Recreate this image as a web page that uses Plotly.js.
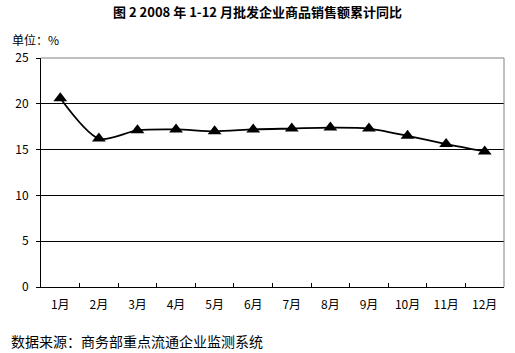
<!DOCTYPE html>
<html><head><meta charset="utf-8">
<script src="https://cdn.plot.ly/plotly-3.0.1.min.js"></script>
<style>html,body{margin:0;padding:0;background:#fff}</style>
</head><body><div id="c" style="width:515px;height:353px"></div>
<script>
const months = ["1月","2月","3月","4月","5月","6月","7月","8月","9月","10月","11月","12月"];
const growth = [20.6, 16.2, 17.1, 17.2, 17.0, 17.2, 17.3, 17.4, 17.3, 16.5, 15.6, 14.8];
const yTicks = [0, 5, 10, 15, 20, 25];
const font = "SimSun, 'Noto Sans CJK SC', sans-serif";
Plotly.newPlot('c', [{
  x: months, y: growth, type: 'scatter', mode: 'lines+markers',
  line: {color: '#000', width: 1.8, shape: 'spline', smoothing: 0.8},
  marker: {symbol: 'triangle-up', size: 12, color: '#000'},
  cliponaxis: false, showlegend: false
}], {
  width: 515, height: 353,
  margin: {l: 41, r: 11, t: 58, b: 66},
  paper_bgcolor: '#fff', plot_bgcolor: '#fff',
  title: {text: '<b>图 2 2008 年 1-12 月批发企业商品销售额累计同比</b>', x: 0.5, xanchor: 'center', y: 0.965, yanchor: 'middle',
          font: {family: font, size: 13, color: '#000'}},
  xaxis: {type: 'category', range: [-0.5, 11.5], tickson: 'boundaries', ticks: 'inside', ticklen: 4, tickcolor: '#000',
          showline: true, linecolor: '#000', linewidth: 1, showgrid: false, zeroline: false, ticklabelstandoff: 7,
          tickfont: {family: font, size: 12, color: '#000'}, fixedrange: true},
  yaxis: {range: [0, 25], tickvals: yTicks, ticks: 'outside', ticklen: 4, tickcolor: '#000',
          showline: true, linecolor: '#000', linewidth: 1, showgrid: true, gridcolor: '#000', gridwidth: 1,
          zeroline: false, ticklabelstandoff: 5, tickfont: {family: font, size: 12, color: '#000'}, fixedrange: true},
  shapes: [
    {type: 'line', xref: 'paper', yref: 'paper', x0: 0, x1: 1, y0: 1, y1: 1, line: {color: '#808080', width: 1}},
    {type: 'line', xref: 'paper', yref: 'paper', x0: 1, x1: 1, y0: 0, y1: 1, line: {color: '#808080', width: 1}}
  ],
  annotations: [
    {text: '单位：%', xref: 'paper', yref: 'paper', x: -0.068, y: 1.08, xanchor: 'left', yanchor: 'middle', showarrow: false,
     font: {family: font, size: 12, color: '#000'}},
    {text: '数据来源：商务部重点流通企业监测系统', xref: 'paper', yref: 'paper', x: -0.07, y: -0.235, xanchor: 'left', yanchor: 'middle', showarrow: false,
     font: {family: font, size: 14, color: '#000'}}
  ]
}, {displayModeBar: false, staticPlot: true});
</script></body></html>
